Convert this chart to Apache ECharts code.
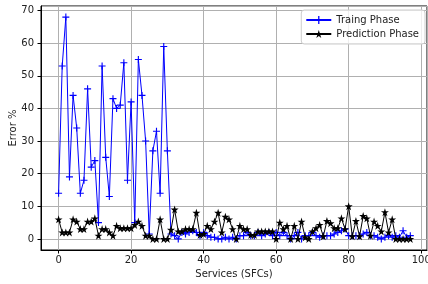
<!DOCTYPE html>
<html>
<head>
<meta charset="utf-8">
<script src="https://cdn.jsdelivr.net/npm/echarts@6/dist/echarts.min.js"></script>
<style>
html,body{margin:0;padding:0;background:#fff;}
#chart{width:428px;height:284px;}
</style>
</head>
<body>
<div id="chart"></div>
<script>
// Training phase error % per service index 0..97
var trainingError = [14,53,68,19,44,34,14,18,46,22,24,5,53,25,13,43,40,41,54,18,42,5,55,44,30,1.5,27,33,14,59,27,1.5,
  1,0,2,1.5,2,2.5,2,1,2,1,0.5,0.5,0,0,0.5,0,0.5,0,1,1,2,1,1,2,1,1.5,2,1,2,1,2,1,0,1,2,0,1,1,2,1,0.5,1,1,1,1.5,2,2.5,3,1,1,1,1,1.5,2,1,1,0.5,0,0.5,1,0.5,1,0.5,2.5,0.5,1];
// Prediction phase error % per service index 0..97
var predictionError = [6,2,2,2,6,5.3,3,3,5.3,5.3,6.3,1,3,3,2,1,4,3.3,3.3,3.3,3.3,4.3,5.3,4,1,1,0,0,6,0,0,2.8,
  9,2.3,2.3,3,3,3,8,1.2,1.5,4,3,5.3,8,2,6.8,6,3,0,4,3,3,1.2,1.2,2.3,2.3,2.3,2.3,2.3,0,5,3,4,0,4,0,5.3,0.5,0,2.3,3.3,4.3,0.8,5.5,4.8,3.3,3.3,6.3,3,10,0.8,5.5,0.8,7,6.3,1,5.3,4,2.3,8.2,2,6,0,0,0,0,0];
var seriesNames = ['Traing Phase', 'Prediction Phase'];
var xTitle = 'Services (SFCs)';
var yTitle = 'Error %';

function pairs(arr){ return arr.map(function(v,i){ return [i, v]; }); }

var plusPath = 'path://M4.2,0H5.8V4.2H10V5.8H5.8V10H4.2V5.8H0V4.2H4.2Z';
var starPath = 'path://M5,0L6.12,3.45L9.76,3.45L6.82,5.59L7.94,9.05L5,6.91L2.06,9.05L3.18,5.59L0.24,3.45L3.88,3.45Z';

var chart = echarts.init(document.getElementById('chart'), null, {renderer:'canvas'});
var txt = {fontFamily:'DejaVu Sans', fontSize:10, color:'#222'};
chart.setOption({
  animation:false,
  backgroundColor:'#fff',
  grid:{left:41, right:1, top:6, bottom:34, outerBoundsMode:'none', containLabel:false,
        show:true, borderColor:'#000', borderWidth:1, backgroundColor:'transparent'},
  legend:{
    orient:'vertical', right:3, top:10,
    itemWidth:25, itemHeight:10, itemGap:4,
    padding:[5,6,5,4],
    borderColor:'#cccccc', borderWidth:1, borderRadius:3,
    backgroundColor:'rgba(255,255,255,0.8)',
    textStyle:{fontFamily:'DejaVu Sans', fontSize:10, color:'#222'},
    data: seriesNames
  },
  xAxis:{
    type:'value', min:-4.85, max:101.6,
    name:xTitle, nameLocation:'middle', nameGap:19, nameMoveOverlap:false, nameTextStyle:txt,
    axisLine:{show:true, onZero:false, lineStyle:{color:'#000', width:1}},
    axisTick:{show:true, length:3.5, lineStyle:{color:'#000'}},
    axisLabel:Object.assign({margin:5, showMinLabel:false, showMaxLabel:false}, txt),
    splitLine:{show:true, lineStyle:{color:'#b0b0b0', width:1}}
  },
  yAxis:{
    type:'value', min:-3.4, max:71.4, splitNumber:7,
    name:yTitle, nameLocation:'middle', nameGap:23, nameMoveOverlap:false, nameTextStyle:txt,
    axisLine:{show:true, onZero:false, lineStyle:{color:'#000', width:1}},
    axisTick:{show:true, length:3.5, lineStyle:{color:'#000'}},
    axisLabel:Object.assign({margin:7, showMinLabel:false, showMaxLabel:false}, txt),
    splitLine:{show:true, lineStyle:{color:'#b0b0b0', width:1}}
  },
  series:[
    {
      name:seriesNames[0], type:'line', data:pairs(trainingError),
      symbol:plusPath, symbolSize:7, showAllSymbol:true,
      lineStyle:{color:'#0000ff', width:1},
      itemStyle:{color:'#0000ff'},
      z:2
    },
    {
      name:seriesNames[1], type:'line', data:pairs(predictionError),
      symbol:starPath, symbolSize:8, showAllSymbol:true,
      lineStyle:{color:'#000000', width:1},
      itemStyle:{color:'#000000'},
      z:3
    }
  ]
});
</script>
</body>
</html>
